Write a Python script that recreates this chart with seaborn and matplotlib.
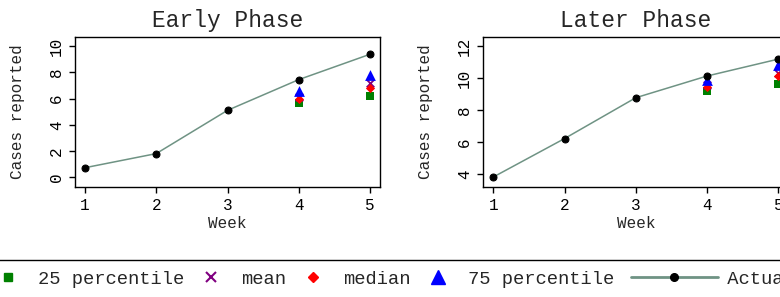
import matplotlib
matplotlib.use('Agg')
import matplotlib.pyplot as plt
import seaborn as sns
from matplotlib.lines import Line2D
from matplotlib.legend_handler import HandlerLine2D

# Data
weeks = [1, 2, 3, 4, 5]
stat_weeks = [4, 5]

early_actual = [0.71, 1.79, 5.10, 7.45, 9.39]
early_p25 = [5.64, 6.20]
early_mean = [6.10, 7.17]
early_median = [5.94, 6.83]
early_p75 = [6.60, 7.80]

later_actual = [3.81, 6.22, 8.78, 10.14, 11.20]
later_p25 = [9.22, 9.62]
later_mean = [9.60, 10.30]
later_median = [9.47, 10.14]
later_p75 = [9.89, 10.83]

line_color = '#6f9384'
mono = 'Liberation Mono'

sns.set_style('white')
plt.rcParams['font.family'] = [mono, 'DejaVu Sans']
plt.rcParams['axes.edgecolor'] = 'black'
plt.rcParams['axes.linewidth'] = 1.0

fig = plt.figure(figsize=(7.8, 2.97), dpi=100)
ax1 = fig.add_axes([75 / 780, 110 / 297, 305 / 780, 150 / 297])
ax2 = fig.add_axes([483.3 / 780, 110 / 297, 305 / 780, 150 / 297])


def draw_panel(ax, title, actual, p25, mean, median, p75, ylim, yticks):
    sns.scatterplot(x=stat_weeks, y=p25, marker='s', s=28, color='#008000',
                    linewidth=0, ax=ax, zorder=2)
    sns.scatterplot(x=stat_weeks, y=mean, marker='x', s=30, color='#800080',
                    linewidth=1.3, ax=ax, zorder=2)
    sns.scatterplot(x=stat_weeks, y=median, marker='D', s=22, color='#ff0000',
                    linewidth=0, ax=ax, zorder=2)
    sns.scatterplot(x=stat_weeks, y=p75, marker='^', s=60, color='#0000ff',
                    linewidth=0, ax=ax, zorder=2)
    sns.lineplot(x=weeks, y=actual, color=line_color, linewidth=1.1, marker='o',
                 markersize=5, markerfacecolor='black', markeredgecolor='black',
                 legend=False, ax=ax, zorder=3)
    ax.set_xlim(0.86, 5.14)
    ax.set_ylim(*ylim)
    ax.set_xticks(weeks)
    ax.set_yticks(yticks)
    ax.tick_params(axis='both', direction='out', length=4.5, width=1,
                   labelsize=11.5, colors='black', bottom=True, left=True)
    ax.tick_params(axis='y', labelrotation=90)
    for lab in ax.get_yticklabels():
        lab.set_va('center')
    ax.set_title(title, fontsize=16.5, pad=7.2)
    ax.set_xlabel('Week', fontsize=11.5)
    ax.set_ylabel('Cases reported', fontsize=11.5)
    ax.xaxis.set_label_coords(0.5, -0.19)
    ax.yaxis.set_label_coords(-0.165, 0.5)
    for sp in ax.spines.values():
        sp.set_visible(True)
        sp.set_color('black')


draw_panel(ax1, 'Early Phase', early_actual, early_p25, early_mean, early_median,
           early_p75, (-0.765, 10.71), [0, 2, 4, 6, 8, 10])
draw_panel(ax2, 'Later Phase', later_actual, later_p25, later_mean, later_median,
           later_p75, (3.185, 12.585), [4, 6, 8, 10, 12])


class WideLine(HandlerLine2D):
    # the line entry is drawn longer than the marker entries
    def create_artists(self, legend, orig_handle, xdescent, ydescent, width,
                       height, fontsize, trans):
        return super().create_artists(legend, orig_handle, xdescent, ydescent,
                                      width + 48, height, fontsize, trans)


line_handle = Line2D([], [], color=line_color, linewidth=2, marker='o',
                     markersize=5.5, markerfacecolor='black', markeredgecolor='black')
handles = [
    Line2D([], [], linestyle='none', marker='s', markersize=6.2, color='#008000'),
    Line2D([], [], linestyle='none', marker='x', markersize=6.5, color='#800080',
           markeredgewidth=1.5),
    Line2D([], [], linestyle='none', marker='D', markersize=5.6, color='#ff0000'),
    Line2D([], [], linestyle='none', marker='^', markersize=9.5, color='#0000ff'),
    line_handle,
]
labels = ['25 percentile', 'mean', 'median', '75 percentile', '     Actual']

fig.legend(handles, labels, loc='upper left', bbox_to_anchor=(-12.5 / 780, 37 / 297),
           bbox_transform=fig.transFigure, ncol=5, fontsize=13.5, frameon=True,
           fancybox=False, edgecolor='black', framealpha=1, borderpad=0.56,
           borderaxespad=0, handlelength=1.07, handletextpad=1.07,
           columnspacing=0.9, handler_map={line_handle: WideLine()})

fig.savefig('out.png', dpi=100)
